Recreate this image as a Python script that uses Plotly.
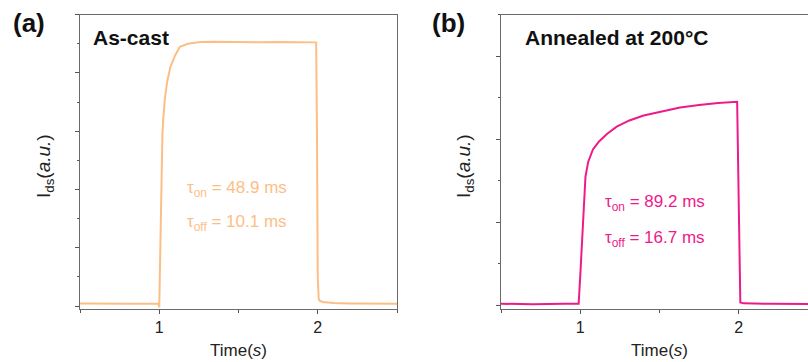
import plotly.graph_objects as go

# ---------------- data ----------------
t_cast = [0.5, 0.6, 0.7, 0.8, 0.9, 0.995, 1.0, 1.004, 1.008, 1.012, 1.016, 1.02, 1.025,
          1.035, 1.05, 1.07, 1.1, 1.13, 1.18, 1.26, 1.35, 1.45, 1.55, 1.65, 1.75, 1.85,
          1.95, 1.99, 1.995, 2.0, 2.006, 2.012, 2.03, 2.06, 2.1, 2.2, 2.35, 2.5]
i_cast = [0.009, 0.008, 0.009, 0.008, 0.008, 0.008, -0.004, 0.15, 0.3, 0.42, 0.52, 0.59, 0.64,
          0.71, 0.77, 0.82, 0.86, 0.89, 0.9, 0.906, 0.907, 0.906, 0.907, 0.905, 0.906, 0.905,
          0.906, 0.905, 0.6, 0.1, 0.025, 0.018, 0.014, 0.012, 0.01, 0.009, 0.009, 0.008]

t_ann = [0.5, 0.7, 0.9, 0.99, 1.0, 1.01, 1.02, 1.033, 1.05, 1.08, 1.12, 1.17, 1.23,
         1.31, 1.4, 1.5, 1.63, 1.75, 1.87, 1.99, 2.0, 2.01, 2.03, 2.1, 2.2, 2.5]
i_ann = [0.003, 0.002, 0.003, 0.003, 0.07, 0.14, 0.21, 0.31, 0.345, 0.375, 0.395, 0.413, 0.43,
         0.445, 0.457, 0.466, 0.476, 0.482, 0.487, 0.49, 0.25, 0.006, 0.004, 0.003, 0.003, 0.002]

panel_labels = ["(a)", "(b)"]
titles = ["As-cast", "Annealed at 200°C"]
tau_cast = ["τ<sub>on</sub> = 48.9 ms", "τ<sub>off</sub> = 10.1 ms"]
tau_ann = ["τ<sub>on</sub> = 89.2 ms", "τ<sub>off</sub> = 16.7 ms"]
x_tickvals = [1, 2]
x_ticktext = ["1", "2"]

c_cast = "#FDBE86"
c_ann = "#EE1A8A"
W, H = 808, 362
FONT = "Arial, Liberation Sans, sans-serif"

def px(x):
    return x / W

def py(y):
    return 1 - y / H

fig = go.Figure()
fig.add_trace(go.Scatter(x=t_cast, y=i_cast, mode="lines", line=dict(color=c_cast, width=2),
                         xaxis="x", yaxis="y", showlegend=False))
fig.add_trace(go.Scatter(x=t_ann, y=i_ann, mode="lines", line=dict(color=c_ann, width=2),
                         xaxis="x2", yaxis="y2", showlegend=False))

ydom = [53 / H, 1 - 14.7 / H]
axline = dict(showline=True, linecolor="#6a6a6a", linewidth=1.3, mirror=True,
              showgrid=False, zeroline=False)

xcommon = dict(range=[0.5, 2.5], tickmode="array", tickvals=x_tickvals, ticktext=x_ticktext,
               ticks="outside", ticklen=4, tickcolor="#555", tickwidth=1,
               minor=dict(tickmode="array", tickvals=[0.5, 1.5, 2.5], ticks="outside",
                          ticklen=3, tickcolor="#555"),
               tickfont=dict(family=FONT, size=16, color="#222"), **axline)

fig.update_layout(
    width=W, height=H, margin=dict(l=0, r=0, t=0, b=0),
    paper_bgcolor="white", plot_bgcolor="white",
    xaxis=dict(domain=[px(80), px(397)], anchor="y", **xcommon),
    yaxis=dict(domain=ydom, anchor="x", range=[-0.0103, 1.0], dtick=0.2, tick0=0,
               ticks="outside", ticklen=4, tickcolor="#555", showticklabels=False,
               minor=dict(dtick=0.1, tick0=0, ticks="outside", ticklen=2, tickcolor="#555"),
               **axline),
    xaxis2=dict(domain=[px(501), 1.0], anchor="y2", **{**xcommon, "range": [0.5, 2.437]}),
    yaxis2=dict(domain=ydom, anchor="x2", range=[-0.0096, 0.7], dtick=0.2, tick0=0,
                ticks="outside", ticklen=4, tickcolor="#555", showticklabels=False,
                minor=dict(dtick=0.1, tick0=0, ticks="outside", ticklen=2, tickcolor="#555"),
                **{**axline, "mirror": False}),
)

base = dict(xref="paper", yref="paper", showarrow=False, xanchor="center", yanchor="middle")
ann = []
# panel labels
for lab, x in zip(panel_labels, [29, 448]):
    ann.append(dict(text="<b>" + lab + "</b>", x=px(x), y=py(23),
                    font=dict(family=FONT, size=26, color="#111"), **base))
# titles
for tt, x in zip(titles, [131, 616]):
    ann.append(dict(text="<b>" + tt + "</b>", x=px(x), y=py(38),
                    font=dict(family=FONT, size=21, color="#111"), **base))
# y labels
for x in [45, 465]:
    ann.append(dict(text="I<sub>ds</sub>(<i>a.u.</i>)", x=px(x), y=py(166), textangle=-90,
                    font=dict(family=FONT, size=19, color="#222"), **base))
# x labels
for xr in ["x", "x2"]:
    ann.append(dict(text="Time(<i>s</i>)", x=1.5, y=py(350),
                    font=dict(family=FONT, size=17, color="#222"), **{**base, "xref": xr}))
# tau annotations
for k, txt in enumerate(tau_cast):
    ann.append(dict(text=txt, x=px(237), y=py(189 + 34 * k),
                    font=dict(family=FONT, size=17, color=c_cast), **base))
for k, txt in enumerate(tau_ann):
    ann.append(dict(text=txt, x=px(655), y=py(203 + 36 * k),
                    font=dict(family=FONT, size=17, color=c_ann), **base))

fig.update_layout(annotations=ann)
fig.write_html("out.html")
